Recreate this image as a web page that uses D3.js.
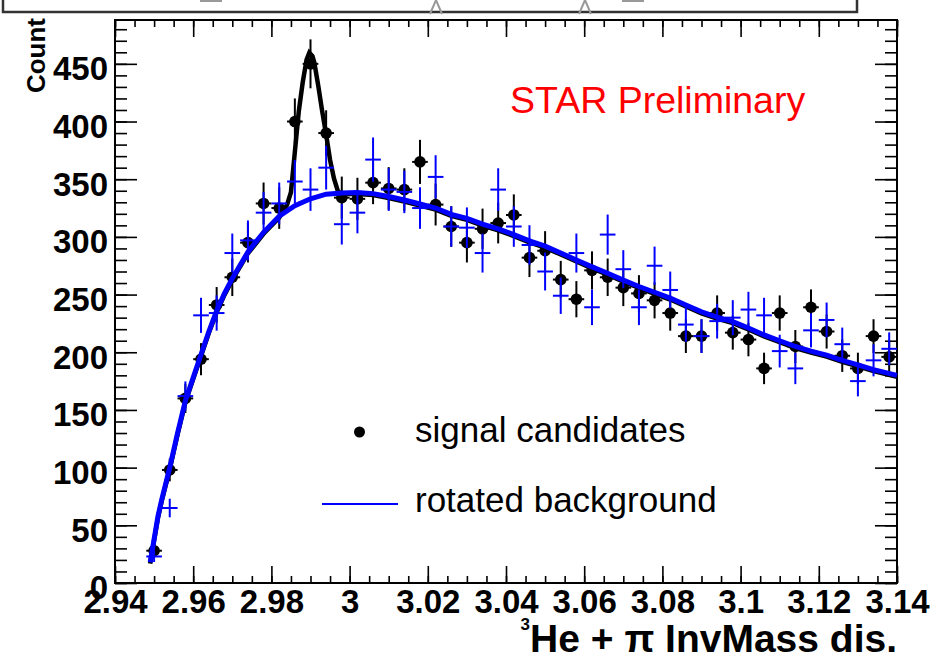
<!DOCTYPE html>
<html>
<head>
<meta charset="utf-8">
<script src="https://cdn.jsdelivr.net/npm/d3@7"></script>
<style>
  body { margin: 0; background: #fff; }
  svg { display: block; }
  text { font-family: "Liberation Sans", Arial, sans-serif; }
</style>
</head>
<body>
<svg id="chart" width="932" height="665"></svg>
<script>
// bin centres: 2.950 .. 3.138, step 0.004
var binCenters = [2.950, 2.954, 2.958, 2.962, 2.966, 2.970, 2.974, 2.978, 2.982, 2.986,
  2.990, 2.994, 2.998, 3.002, 3.006, 3.010, 3.014, 3.018, 3.022, 3.026,
  3.030, 3.034, 3.038, 3.042, 3.046, 3.050, 3.054, 3.058, 3.062, 3.066,
  3.070, 3.074, 3.078, 3.082, 3.086, 3.090, 3.094, 3.098, 3.102, 3.106,
  3.110, 3.114, 3.118, 3.122, 3.126, 3.130, 3.134, 3.138];

var signalCounts = [28, 98, 160, 194, 241, 265, 295, 329, 325, 400,
  450, 390, 334, 333, 347, 342, 341, 365, 328, 309,
  295, 307, 312, 319, 282, 288, 263, 246, 271, 265,
  256, 251, 245, 234, 214, 214, 234, 217, 211, 186,
  234, 205, 239, 218, 197, 186, 214, 196];

var rotatedCounts = [23, 65, 162, 232, 234, 286, 297, 321, 329, 348,
  341, 360, 311, 321, 367, 341, 339, 325, 352, 309,
  308, 286, 341, 309, 293, 270, 249, 286, 239, 302,
  272, 239, 275, 254, 224, 214, 227, 230, 237, 232,
  201, 186, 219, 228, 207, 175, 193, 203];

// background fit curve
var bgFitX = [2.949, 2.950, 2.951, 2.952, 2.954, 2.956, 2.958, 2.960, 2.962, 2.964,
  2.966, 2.968, 2.970, 2.974, 2.978, 2.982, 2.986, 2.990, 2.994, 2.998,
  3.002, 3.006, 3.010, 3.014, 3.018, 3.022, 3.026, 3.030, 3.034, 3.038,
  3.042, 3.046, 3.050, 3.054, 3.058, 3.062, 3.066, 3.070, 3.074, 3.078,
  3.082, 3.086, 3.090, 3.094, 3.098, 3.102, 3.106, 3.110, 3.114, 3.118,
  3.122, 3.126, 3.130, 3.134, 3.140];
var bgFitY = [18, 38, 58, 73, 100, 130, 158, 178, 198, 218,
  236, 251, 264, 287, 304, 318, 327, 333, 337, 338,
  338.5, 337.5, 335, 332, 328.5, 325, 319.5, 316, 311, 307,
  302, 296.5, 292, 286, 280, 274, 268.5, 262.5, 257, 252,
  247, 241, 235, 230.5, 226.5, 221, 215, 210, 205, 201,
  197.5, 193, 189, 185, 180];

// signal + background fit around the peak
var peakFitX = [2.984, 2.985, 2.986, 2.987, 2.988, 2.989, 2.9897, 2.9905, 2.991, 2.992,
  2.993, 2.994, 2.995, 2.996, 2.997, 2.998];
var peakFitY = [329, 340, 375, 410, 435, 455, 461, 458, 452, 432,
  410, 390, 368, 352, 341, 338.5];

var xTicks = [2.94, 2.96, 2.98, 3.00, 3.02, 3.04, 3.06, 3.08, 3.10, 3.12, 3.14];
var yTicks = [0, 50, 100, 150, 200, 250, 300, 350, 400, 450];

var svg = d3.select("#chart");
var fLeft = 115, fRight = 897, fTop = 20, fBottom = 583;

var x = d3.scaleLinear().domain([2.94, 3.14]).range([fLeft, fRight]);
var y = d3.scaleLinear().domain([0, 488]).range([fBottom, fTop]);
var halfBin = 0.002;

// cut-off box above the frame
var topBox = svg.append("g");
topBox.append("rect")
  .attr("x", 3).attr("y", -10).attr("width", 854).attr("height", 22)
  .attr("fill", "none").attr("stroke", "#333").attr("stroke-width", 2.5);
topBox.selectAll("rect.frag").data([200, 622]).enter().append("rect")
  .attr("class", "frag")
  .attr("x", function(d) { return d; }).attr("y", 0)
  .attr("width", 22).attr("height", 2).attr("fill", "#999");
topBox.selectAll("path.frag").data([436, 585]).enter().append("path")
  .attr("class", "frag")
  .attr("d", function(d) { return "M" + (d - 6) + ",14L" + d + ",0L" + (d + 6) + ",14"; })
  .attr("fill", "none").attr("stroke", "#999").attr("stroke-width", 2);

// axes
function fmt(d) { return String(+d.toFixed(2)); }
var xMinor = d3.range(0, 41).map(function(i) { return 2.94 + i * 0.005; });
var yMinor = d3.range(0, 49).map(function(i) { return i * 10; });

function drawAxis(axis, tx, ty) {
  var g = svg.append("g").attr("transform", "translate(" + tx + "," + ty + ")").call(axis);
  g.select(".domain").remove();
  g.selectAll("line").attr("stroke", "#000").attr("stroke-width", 1.6);
  return g;
}

drawAxis(d3.axisBottom(x).tickValues(xMinor).tickSize(-7).tickFormat(""), 0, fBottom);
drawAxis(d3.axisTop(x).tickValues(xMinor).tickSize(-7).tickFormat(""), 0, fTop);
drawAxis(d3.axisTop(x).tickValues(xTicks).tickSize(-17).tickFormat(""), 0, fTop);
var xAx = drawAxis(d3.axisBottom(x).tickValues(xTicks).tickSize(-17).tickFormat(fmt), 0, fBottom);
xAx.selectAll("text")
  .attr("y", 30).attr("dy", 0)
  .attr("font-size", 33).attr("font-weight", "bold").attr("fill", "#000");

drawAxis(d3.axisLeft(y).tickValues(yMinor).tickSize(-12).tickFormat(""), fLeft, 0);
drawAxis(d3.axisRight(y).tickValues(yMinor).tickSize(-12).tickFormat(""), fRight, 0);
drawAxis(d3.axisRight(y).tickValues(yTicks).tickSize(-22).tickFormat(""), fRight, 0);
var yAx = drawAxis(d3.axisLeft(y).tickValues(yTicks).tickSize(-22).tickFormat(fmt), fLeft, 0);
yAx.selectAll("text")
  .attr("x", -7).attr("dy", "0.48em")
  .attr("font-size", 33).attr("font-weight", "bold").attr("fill", "#000");

svg.append("rect")
  .attr("x", fLeft).attr("y", fTop)
  .attr("width", fRight - fLeft).attr("height", fBottom - fTop)
  .attr("fill", "none").attr("stroke", "#000").attr("stroke-width", 2);

// signal candidates: dots with error bars
var sig = svg.append("g");
binCenters.forEach(function(c, i) {
  var v = signalCounts[i], e = Math.sqrt(v);
  sig.append("line")
    .attr("x1", x(c)).attr("x2", x(c)).attr("y1", y(v - e)).attr("y2", y(v + e))
    .attr("stroke", "#000").attr("stroke-width", 2);
  sig.append("line")
    .attr("x1", x(c - halfBin)).attr("x2", x(c + halfBin)).attr("y1", y(v)).attr("y2", y(v))
    .attr("stroke", "#000").attr("stroke-width", 2);
  sig.append("circle")
    .attr("cx", x(c)).attr("cy", y(v)).attr("r", 5.8).attr("fill", "#000");
});

// fit curves
var line = d3.line().x(function(d) { return x(d[0]); }).y(function(d) { return y(d[1]); });
var bgPts = bgFitX.map(function(v, i) { return [v, bgFitY[i]]; });
var peakPts = peakFitX.map(function(v, i) { return [v, peakFitY[i]]; });
var sigPts = bgPts.filter(function(d) { return d[0] < peakFitX[0]; })
  .concat(peakPts)
  .concat(bgPts.filter(function(d) { return d[0] > peakFitX[peakFitX.length - 1]; }));

svg.append("path").datum(sigPts)
  .attr("d", line).attr("transform", "translate(0,1.5)")
  .attr("fill", "none").attr("stroke", "#000").attr("stroke-width", 4.5);

// rotated background: crosses
var bg = svg.append("g");
binCenters.forEach(function(c, i) {
  var v = rotatedCounts[i], e = Math.sqrt(v);
  bg.append("line")
    .attr("x1", x(c)).attr("x2", x(c)).attr("y1", y(v - e)).attr("y2", y(v + e))
    .attr("stroke", "#0000ff").attr("stroke-width", 2);
  bg.append("line")
    .attr("x1", x(c - halfBin)).attr("x2", x(c + halfBin)).attr("y1", y(v)).attr("y2", y(v))
    .attr("stroke", "#0000ff").attr("stroke-width", 2);
});

svg.append("path").datum(bgPts)
  .attr("d", line)
  .attr("fill", "none").attr("stroke", "#0000ff").attr("stroke-width", 5);

// legend
svg.append("circle").attr("cx", 359.5).attr("cy", 432).attr("r", 5.5).attr("fill", "#000");
svg.append("text").attr("x", 415).attr("y", 442).attr("font-size", 35).text("signal candidates");
svg.append("line").attr("x1", 322).attr("x2", 398).attr("y1", 504).attr("y2", 504)
  .attr("stroke", "#0000ff").attr("stroke-width", 2);
svg.append("text").attr("x", 415).attr("y", 512).attr("font-size", 35).text("rotated background");

svg.append("text").attr("x", 510).attr("y", 113).attr("font-size", 37.5).attr("fill", "#ff0000")
  .text("STAR Preliminary");

// axis titles
var xt = svg.append("text").attr("x", 897).attr("y", 652)
  .attr("text-anchor", "end").attr("font-weight", "bold").attr("font-size", 39);
xt.append("tspan").attr("font-size", 17).attr("dy", -22).text("3");
xt.append("tspan").attr("dy", 22).text("He + π InvMass dis.");

svg.append("text")
  .attr("transform", "translate(45,18) rotate(-90)")
  .attr("text-anchor", "end").attr("font-weight", "bold").attr("font-size", 26)
  .text("Count");
</script>
</body>
</html>
